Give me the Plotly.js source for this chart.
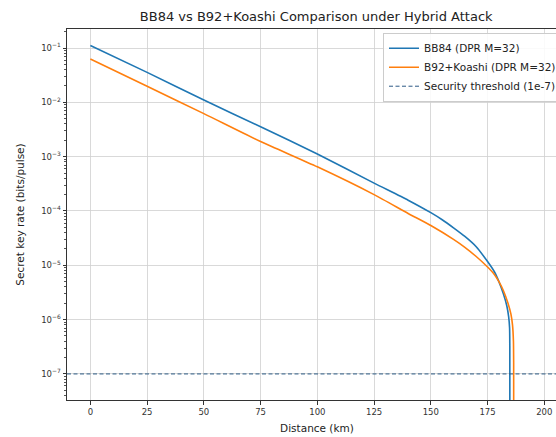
<!DOCTYPE html>
<html>
<head>
<meta charset="utf-8">
<script src="https://cdn.plot.ly/plotly-3.0.1.min.js"></script>
<style>
html,body{margin:0;padding:0;overflow:hidden;background:#fff;}
#chart{width:600px;height:437px;}
</style>
</head>
<body>
<div id="chart"></div>
<script>
// Distance (km) and secret key rate (bits/pulse)
const bb84Dist = [0, 25, 50, 75, 100, 125, 140, 150, 155, 160, 165, 170, 175, 178, 180, 182, 183.5, 184.3, 184.7, 184.8, 184.85];
const bb84Rate = [0.111, 0.0356, 0.0110, 3.55e-3, 1.12e-3, 3.26e-4, 1.58e-4, 9.3e-5, 6.9e-5, 4.9e-5, 3.4e-5, 2.2e-5, 1.17e-5, 7.6e-6, 5.0e-6, 2.95e-6, 1.78e-6, 1.12e-6, 7.1e-7, 3.2e-7, 1e-12];
const b92Dist = [0, 25, 50, 75, 100, 125, 140, 150, 160, 165, 170, 175, 178, 180, 182, 184, 185.3, 186.0, 186.4, 186.5, 186.55];
const b92Rate = [0.063, 0.0197, 6.2e-3, 1.9e-3, 6.5e-4, 2.0e-4, 9.0e-5, 5.4e-5, 3.0e-5, 2.14e-5, 1.45e-5, 9.3e-6, 6.8e-6, 5.0e-6, 3.4e-6, 2.0e-6, 1.26e-6, 7.9e-7, 4.0e-7, 1.6e-7, 1e-12];
const threshold = 1e-7;
const xRange = [-10.3, 210];
const yTickVals = [1e-1, 1e-2, 1e-3, 1e-4, 1e-5, 1e-6, 1e-7];
const yTickText = ['10<sup>\u22121</sup>', '10<sup>\u22122</sup>', '10<sup>\u22123</sup>', '10<sup>\u22124</sup>', '10<sup>\u22125</sup>', '10<sup>\u22126</sup>', '10<sup>\u22127</sup>'];
const xTickVals = [0, 25, 50, 75, 100, 125, 150, 175, 200];

const FF = 'DejaVu Sans, sans-serif';

const traces = [
  {x: bb84Dist, y: bb84Rate, type: 'scatter', mode: 'lines', name: 'BB84 (DPR M=32)',
   line: {color: '#1f77b4', width: 1.6, shape: 'spline', smoothing: 0.6}},
  {x: b92Dist, y: b92Rate, type: 'scatter', mode: 'lines', name: 'B92+Koashi (DPR M=32)',
   line: {color: '#ff7f0e', width: 1.6, shape: 'spline', smoothing: 0.6}},
  {x: xRange, y: [threshold, threshold], type: 'scatter', mode: 'lines', name: 'Security threshold (1e-7)',
   line: {color: '#2c5a85', width: 1, dash: '4px,2.5px'}}
];

const layout = {
  width: 600, height: 437,
  margin: {l: 67, r: 33, t: 29, b: 37},
  paper_bgcolor: '#fff', plot_bgcolor: '#fff',
  font: {family: FF, size: 9, color: '#222'},
  title: {text: 'BB84 vs B92+Koashi Comparison under Hybrid Attack', font: {family: FF, size: 13, color: '#222'},
          x: 0.527, xanchor: 'center', y: 0.962, yanchor: 'middle'},
  showlegend: true,
  legend: {x: 0.99, xanchor: 'right', y: 0.99, yanchor: 'top', bgcolor: 'rgba(255,255,255,0.85)',
           bordercolor: '#cccccc', borderwidth: 1, font: {family: FF, size: 10.5, color: '#222'},
           tracegroupgap: 0, itemwidth: 30},
  xaxis: {range: xRange, tickvals: xTickVals, ticks: 'outside', ticklen: 3.5, tickcolor: '#333',
          showline: true, linecolor: '#333', linewidth: 1, mirror: true,
          showgrid: true, gridcolor: '#d0d0d0', gridwidth: 0.8, zeroline: false, automargin: false,
          title: {text: 'Distance (km)', font: {family: FF, size: 10.5, color: '#222'}, standoff: 8},
          tickfont: {family: FF, size: 8.5, color: '#333'}},
  yaxis: {type: 'log', range: [-7.48, -0.65], tickvals: yTickVals, ticktext: yTickText,
          ticks: 'outside', ticklen: 3.5, tickcolor: '#333', automargin: false,
          minor: {dtick: 'D1', ticks: 'outside', ticklen: 2, tickcolor: '#555', showgrid: false},
          showline: true, linecolor: '#333', linewidth: 1, mirror: true,
          showgrid: true, gridcolor: '#d0d0d0', gridwidth: 0.8, zeroline: false,
          title: {text: 'Secret key rate (bits/pulse)', font: {family: FF, size: 10.5, color: '#222'}, standoff: 14},
          tickfont: {family: FF, size: 8.5, color: '#333'}}
};

Plotly.newPlot('chart', traces, layout, {displayModeBar: false, staticPlot: true});
</script>
</body>
</html>
